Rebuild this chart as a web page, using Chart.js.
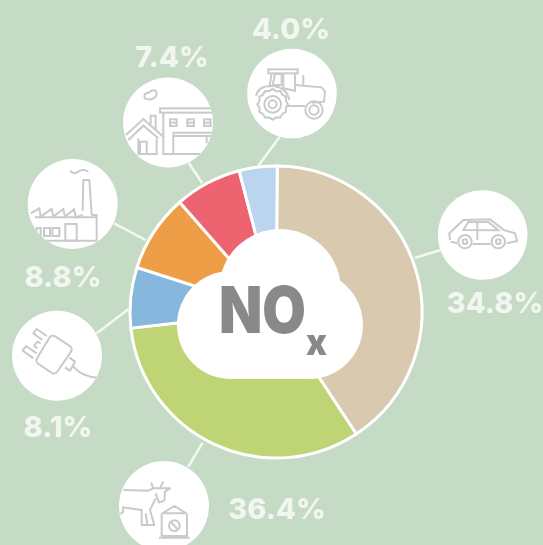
<!DOCTYPE html>
<html><head><meta charset="utf-8">
<style>html,body{margin:0;padding:0;background:#c6dbc5;overflow:hidden}#w{position:absolute;left:0;top:0;width:543px;height:545px}</style>
<script src="https://cdn.jsdelivr.net/npm/chart.js@4"></script>
</head><body><div id="w"><canvas id="c" width="543" height="545"></canvas></div>
<script>
const categories = ["Road transport","Agriculture","Energy supply","Industry","Commercial and households","Non-road transport"];
// shares as drawn in the picture (percent of the ring), which differ from the printed labels
const drawnShares = [40.6,32.5,6.7,8.6,7.4,4.2];
const printedLabels = ["34.8%","36.4%","8.1%","8.8%","7.4%","4.0%"];
const sliceColors = ["#d9c9ae","#bfd475","#88b7dd","#ee9e47","#ee6370","#bad5ed"];
const BG="#c6dbc5", INK="#c9cacc", TXT="#f1f6f0";

const bubbles=[[482.7,235,44.8],[164,506,45],[57,355.7,45],[72.7,204,45],[168,122.5,45],[292,93.5,44.8]];
const leaders=[[440.7,250,415,257.7],[188.3,466.7,202.7,442.7],[96.7,333.3,128.3,309.3],[114,223.3,145.7,240],[188.7,162.7,202.3,183.3],[279.5,137,258.5,165.5]];
const labelPos=[[495,303],[277,509],[58,427],[63,277],[172,57],[291,29]];

function poly(x,p,close){x.beginPath();p.forEach((q,i)=>i?x.lineTo(q[0],q[1]):x.moveTo(q[0],q[1]));if(close)x.closePath();x.stroke();}
function circ(x,a,b,r){x.beginPath();x.arc(a,b,r,0,Math.PI*2);x.stroke();}
function rect(x,a,b,c,d){x.strokeRect(a,b,c-a,d-b);}
function roundPoly(x,p,r){const n=p.length;x.beginPath();
  x.moveTo((p[0][0]+p[n-1][0])/2,(p[0][1]+p[n-1][1])/2);
  for(let i=0;i<n;i++){const a=p[i],b=p[(i+1)%n];x.arcTo(a[0],a[1],b[0],b[1],r);}
  x.closePath();x.stroke();}

function car(x){
  poly(x,[[150,210],[148,190],[190,150],[270,148],[312,180],[345,190],[351,213],[320,220]]);
  poly(x,[[172,220],[152,215]]);poly(x,[[218,222],[272,222]]);
  poly(x,[[190,180],[205,156],[265,156],[295,181]],true);
  poly(x,[[232,156],[232,210]]);
  circ(x,195,215,20);circ(x,195,215,7);circ(x,295,215,20);circ(x,295,215,7);
}
function tractor(x){
  rect(x,805,208,893,220);
  poly(x,[[815,220],[808,262]]);poly(x,[[850,220],[850,265],[885,272],[885,220]]);
  poly(x,[[825,222],[818,255],[845,255],[845,222]],true);
  poly(x,[[910,225],[910,255]]);
  poly(x,[[885,255],[965,262],[975,275],[972,305],[935,308]]);
  poly(x,[[860,318],[915,318]]);
  x.beginPath();x.moveTo(768,288);x.quadraticCurveTo(775,255,820,258);x.quadraticCurveTo(860,262,868,300);x.stroke();
  x.beginPath();for(let i=0;i<24;i++){const a=i*Math.PI/12,r=i%2?41:46;const X=818+r*Math.cos(a),Y=313+r*Math.sin(a);i?x.lineTo(X,Y):x.moveTo(X,Y);}x.closePath();x.stroke();
  circ(x,818,313,25);circ(x,818,313,12);
  circ(x,942,330,26);circ(x,942,330,14);
}
function farm(x){
  x.beginPath();x.moveTo(435,295);x.quadraticCurveTo(428,280,445,278);x.quadraticCurveTo(470,262,470,283);x.quadraticCurveTo(465,300,445,298);x.closePath();x.stroke();
  rect(x,480,325,650,338);
  poly(x,[[490,338],[490,462],[600,462]]);
  [[510,530],[562,582],[612,632]].forEach(w=>{rect(x,w[0],358,w[1],378);poly(x,[[w[0],368],[w[1],368]]);});
  poly(x,[[520,462],[520,398],[640,398]]);poly(x,[[520,408],[640,408]]);poly(x,[[620,408],[620,430]]);
  poly(x,[[378,405],[430,357],[492,412]]);poly(x,[[385,420],[430,377],[475,415]]);
  poly(x,[[415,415],[415,462],[470,462],[470,415]]);
  rect(x,420,425,440,462);
  poly(x,[[452,372],[452,347],[467,347],[467,392]]);
}
function factory(x){
  poly(x,[[248,632],[250,540],[268,540],[275,645]]);
  x.beginPath();x.moveTo(210,512);x.quadraticCurveTo(222,525,235,515);x.quadraticCurveTo(250,505,265,515);x.stroke();
  poly(x,[[92,640],[118,625],[122,650],[155,627],[160,650],[190,627],[195,650],[222,628],[228,652],[248,645]]);
  poly(x,[[275,645],[290,645],[290,722],[105,722]]);
  poly(x,[[105,652],[290,652]]);
  rect(x,110,684,122,708);rect(x,132,684,150,708);rect(x,157,684,178,708);
  rect(x,196,672,230,722);
}
function plug(x){
  x.lineJoin="round";
  roundPoly(x,[[125,72],[190,115],[135,195],[75,155]],12);
  poly(x,[[110,78],[80,57],[70,70],[97,90]]);
  poly(x,[[92,100],[82,95],[72,108],[82,115]]);
  poly(x,[[80,130],[48,108],[38,122],[70,145]]);
  poly(x,[[178,143],[195,155],[180,182],[165,172]]);
  x.beginPath();x.moveTo(190,170);x.quadraticCurveTo(215,200,262,203);x.stroke();
}
function cow(x){
  x.lineJoin="round";
  poly(x,[[25,90],[100,92],[115,85],[108,68]]);
  poly(x,[[115,85],[135,85],[145,65]]);
  poly(x,[[135,85],[165,85],[150,95],[148,122],[132,128],[122,100]]);
  poly(x,[[122,115],[105,150],[118,195],[80,195],[80,150],[22,142]]);
  poly(x,[[92,160],[97,192]]);
  x.beginPath();x.moveTo(22,145);x.quadraticCurveTo(30,155,16,162);x.stroke();
  poly(x,[[142,160],[178,138],[214,160]],true);
  poly(x,[[140,162],[140,228],[216,228],[216,162]]);
  poly(x,[[132,233],[224,233]]);
  circ(x,178,197,16);poly(x,[[168,186],[188,208]]);
}
// each icon was traced in a 3x crop: [draw, crop origin x, crop origin y]
const icons=[[car,400,170],[cow,115,460],[plug,10,310],[factory,0,0],[farm,0,0],[tractor,0,0]];

const decor={id:"decor",
  beforeDatasetsDraw(ch){
    const x=ch.ctx;x.save();
    x.strokeStyle="#f4f7f3";x.lineWidth=2.5;
    leaders.forEach(l=>poly(x,[[l[0],l[1]],[l[2],l[3]]]));
    bubbles.forEach((b,i)=>{
      x.save();
      x.fillStyle="#fff";x.beginPath();x.arc(b[0],b[1],b[2],0,Math.PI*2);x.fill();x.clip();
      const ic=icons[i];
      x.translate(ic[1],ic[2]);x.scale(1/3,1/3);
      x.strokeStyle=INK;x.lineWidth=6;x.lineJoin="miter";x.lineCap="butt";
      ic[0](x);
      x.restore();
    });
    x.fillStyle=TXT;x.font="800 29px Inter, 'Open Sans', sans-serif";x.textAlign="center";x.textBaseline="alphabetic";
    printedLabels.forEach((t,i)=>x.fillText(t,labelPos[i][0],labelPos[i][1]+10));
    x.restore();
  },
  afterDatasetsDraw(ch){
    const x=ch.ctx;x.save();x.fillStyle="#fff";
    [[231,325,54],[280,290,61],[309,325,54]].forEach(c=>{x.beginPath();x.arc(c[0],c[1],c[2],0,Math.PI*2);x.fill();});
    x.fillRect(231,325,78,54);
    x.fillStyle="#88898b";x.textBaseline="alphabetic";x.textAlign="left";
    x.font="900 65px Inter, 'Liberation Sans', sans-serif";
    x.fillText("NO",219,333,87);
    x.font="900 37px Inter, 'Liberation Sans', sans-serif";
    x.fillText("x",306,355,21);
    x.restore();
  }};

new Chart(document.getElementById("c"),{
  type:"doughnut",
  data:{labels:categories,datasets:[{data:drawnShares,backgroundColor:sliceColors,borderColor:"#fff",borderWidth:3,borderAlign:"center",borderJoinStyle:"miter"}]},
  options:{responsive:false,animation:false,cutout:62,rotation:0.5,
    layout:{padding:{left:128.5,right:119.5,top:164.5,bottom:85.5}},
    plugins:{legend:{display:false},tooltip:{enabled:false},title:{display:false}}},
  plugins:[decor]
});
</script></body></html>
